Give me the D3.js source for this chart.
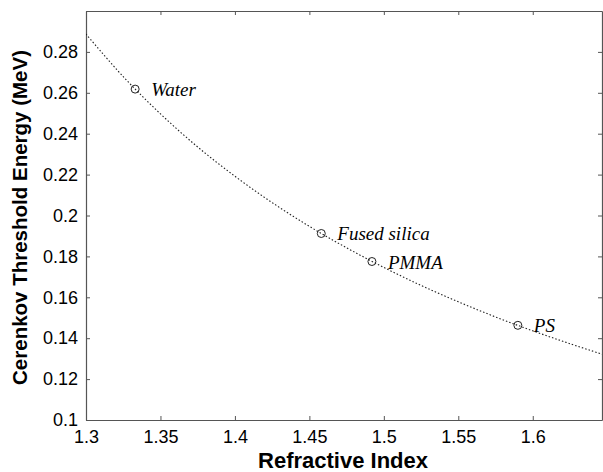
<!DOCTYPE html>
<html>
<head>
<meta charset="utf-8">
<script src="https://cdn.jsdelivr.net/npm/d3@7"></script>
<style>
	body { margin: 0; background: #fff; }
	svg { display: block; }
</style>
</head>
<body>
<div id="chart"></div>
<script>
//===== DATA =====//

// curve (refractive index -> threshold energy, MeV)
var curveIndex = [1.300, 1.325, 1.350, 1.375, 1.400, 1.425, 1.450, 1.475, 1.500, 1.525, 1.550, 1.575, 1.600, 1.625, 1.650];
var curveEnergy = [0.2887, 0.2679, 0.2497, 0.2335, 0.2192, 0.2063, 0.1947, 0.1842, 0.1746, 0.1658, 0.1578, 0.1504, 0.1436, 0.1373, 0.1314];

// labelled materials
var materials = ['Water', 'Fused silica', 'PMMA', 'PS'];
var materialIndex = [1.333, 1.458, 1.492, 1.590];
var materialEnergy = [0.2618, 0.1912, 0.1775, 0.1463];

var xTicks = [1.3, 1.35, 1.4, 1.45, 1.5, 1.55, 1.6];
var xTickLabels = ['1.3', '1.35', '1.4', '1.45', '1.5', '1.55', '1.6'];
var yTicks = [0.1, 0.12, 0.14, 0.16, 0.18, 0.2, 0.22, 0.24, 0.26, 0.28];
var yTickLabels = ['0.1', '0.12', '0.14', '0.16', '0.18', '0.2', '0.22', '0.24', '0.26', '0.28'];

//===== CHART =====//

var width = 603, height = 472;
var margin = {top: 11, right: 1, bottom: 52, left: 86};
var axisColor = '#555';

var svg = d3.select('#chart').append('svg')
	.attr('width', width)
	.attr('height', height);

var x = d3.scaleLinear().domain([1.3, 1.6465]).range([margin.left, width - margin.right]);
var y = d3.scaleLinear().domain([0.1, 0.3]).range([height - margin.bottom, margin.top]);

svg.append('defs').append('clipPath').attr('id', 'plot-clip')
	.append('rect')
	.attr('x', x.range()[0]).attr('y', y.range()[1])
	.attr('width', x.range()[1] - x.range()[0])
	.attr('height', y.range()[0] - y.range()[1]);

function styleAxis(g) {
	g.select('.domain').attr('stroke', axisColor).attr('stroke-width', 1.2);
	g.selectAll('.tick line').attr('stroke', axisColor);
	g.selectAll('.tick text')
		.attr('fill', '#000')
		.style('font-family', 'Liberation Sans, Arial, sans-serif')
		.style('font-size', '18px');
}

// bottom & left axes with labels, ticks pointing inwards
svg.append('g')
	.attr('transform', 'translate(0,' + y.range()[0] + ')')
	.call(d3.axisBottom(x).tickValues(xTicks)
		.tickFormat(function (d, i) { return xTickLabels[i]; })
		.tickSizeInner(-4).tickSizeOuter(0).tickPadding(10))
	.call(styleAxis);

svg.append('g')
	.attr('transform', 'translate(' + x.range()[0] + ',0)')
	.call(d3.axisLeft(y).tickValues(yTicks)
		.tickFormat(function (d, i) { return yTickLabels[i]; })
		.tickSizeInner(-4).tickSizeOuter(0).tickPadding(8))
	.call(styleAxis);

// top & right box edges, ticks only
svg.append('g')
	.attr('transform', 'translate(0,' + y.range()[1] + ')')
	.call(d3.axisTop(x).tickValues(xTicks).tickFormat('').tickSizeInner(-4).tickSizeOuter(0))
	.call(styleAxis);

svg.append('g')
	.attr('transform', 'translate(' + x.range()[1] + ',0)')
	.call(d3.axisRight(y).tickValues(yTicks).tickFormat('').tickSizeInner(-4).tickSizeOuter(0))
	.call(styleAxis);

// dotted curve
var line = d3.line()
	.x(function (d, i) { return x(curveIndex[i]); })
	.y(function (d) { return y(d); })
	.curve(d3.curveCatmullRom);

svg.append('path')
	.datum(curveEnergy)
	.attr('clip-path', 'url(#plot-clip)')
	.attr('d', line)
	.attr('fill', 'none')
	.attr('stroke', '#222')
	.attr('stroke-width', 1.1)
	.attr('stroke-dasharray', '1.5,2');

// material markers + labels
var mats = svg.selectAll('g.material').data(materials)
	.enter().append('g')
	.classed('material', true)
	.attr('transform', function (d, i) {
		return 'translate(' + x(materialIndex[i]) + ',' + y(materialEnergy[i]) + ')';
	});

mats.append('circle')
	.attr('r', 4)
	.attr('fill', 'none')
	.attr('stroke', '#222')
	.attr('stroke-width', 1);

mats.append('text')
	.attr('x', 16)
	.attr('y', 7)
	.text(function (d) { return d; })
	.style('font-family', 'Liberation Serif, Times New Roman, serif')
	.style('font-style', 'italic')
	.style('font-size', '19px')
	.attr('fill', '#000');

// axis titles
svg.append('text')
	.attr('x', 343)
	.attr('y', 468)
	.attr('text-anchor', 'middle')
	.style('font-family', 'Liberation Sans, Arial, sans-serif')
	.style('font-weight', 'bold')
	.style('font-size', '22px')
	.text('Refractive Index');

svg.append('text')
	.attr('transform', 'translate(27,217.5) rotate(-90)')
	.attr('text-anchor', 'middle')
	.style('font-family', 'Liberation Sans, Arial, sans-serif')
	.style('font-weight', 'bold')
	.style('font-size', '20.5px')
	.text('Cerenkov Threshold Energy (MeV)');
</script>
</body>
</html>
